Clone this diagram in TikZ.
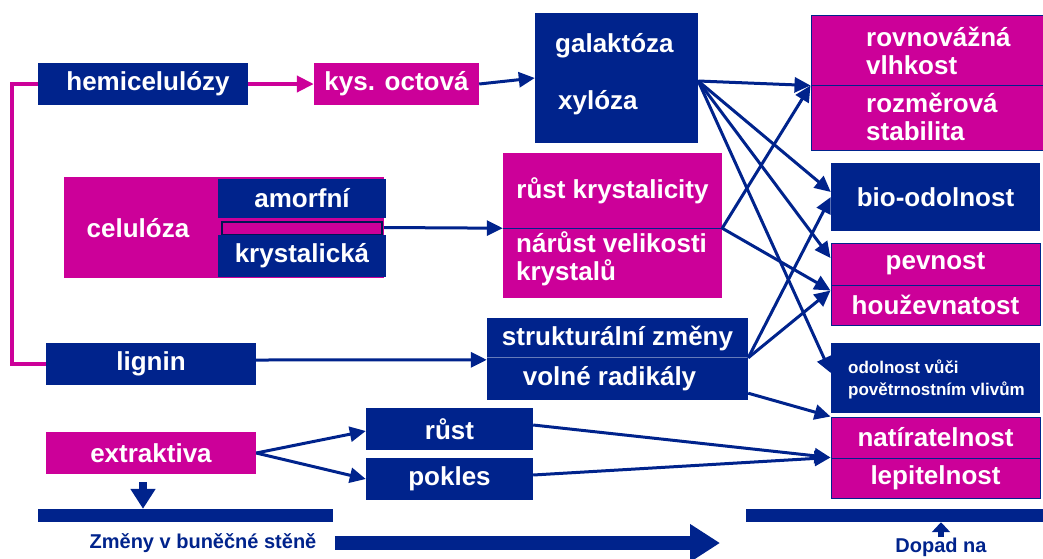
\documentclass[tikz,border=0pt]{standalone}
\usepackage{fontspec}
\setmainfont{Liberation Sans}
\usepackage{tikz}
\usetikzlibrary{arrows.meta,calc,positioning}
\definecolor{navy}{RGB}{0,35,140}
\definecolor{magent}{RGB}{204,0,153}
\tikzset{
  wh/.style 2 args={minimum width=#1pt, minimum height=#2pt},
  bluebox/.style={fill=navy, text=white, inner sep=0pt},
  magbox/.style={fill=magent, text=white, inner sep=0pt},
  magcell/.style={magbox, draw=navy, line width=1pt},   % right column cells
  wtxt/.style={anchor=west, align=left, text=white, inner sep=0pt},
  bar/.style={fill=navy, inner sep=0pt},
  link/.style={draw=navy, line width=3pt, -{Triangle[length=16pt,width=15pt]}},
  magline/.style={draw=magent, line width=4pt},
  smalltxt/.style={font=\bfseries\fontsize{17}{22}\selectfont},
  foot/.style={text=navy, font=\bfseries\fontsize{20}{22}\selectfont}
}

\begin{document}
\begin{tikzpicture}[x=1pt,y=-1pt,font=\bfseries\fontsize{26}{28}\selectfont]
  \useasboundingbox (0,0) rectangle (1043,558);
  % hemicelluloses
  \node[bluebox, wh={210}{42}] (hem) at (143,84) {\hspace*{10pt}hemicelulózy};
  \node[magbox, wh={165}{42}] (oct) at (396.5,84) {kys. octová};
  \node[bluebox, wh={163}{130}] (gal) at (616.5,78) {};
  \node[wtxt] (galtxt) at (555,46) {galaktóza};
  \node[wtxt] (xyltxt) at (558,103) {xylóza};
  % cellulose
  \node[magbox, wh={320}{101}] (cel) at (224,227.5) {};
  \node[text=white] (celtxt) at (138,228) {celulóza};
  \node[bluebox, wh={168}{39}] (amo) at (302,198.5) {amorfní};
  \node[magbox, draw=navy!60!black, line width=1.2pt, wh={160}{13}] (strip) at (302,228.5) {};
  \node[bluebox, wh={168}{42}] (kry) at (302,256) {krystalická};
  \node[magbox, wh={219}{75}] (rk) at (612.5,190.5) {růst krystalicity};
  \node[magbox, wh={219}{70}] (nv) at (612.5,263) {};
  \node[wtxt] (nvtxt) at (516,259) {nárůst velikosti\\krystalů};
  \draw[navy, line width=1pt] (rk.south west) -- (rk.south east);
  % lignin
  \node[bluebox, wh={210}{42}] (lig) at (151,364) {lignin};
  \node[bluebox, wh={261}{40}] (str) at (617.5,338) {strukturální změny};
  \node[bluebox, wh={261}{42}] (vol) at (617.5,379) {volné radikály\hspace*{16pt}};
  \draw[navy!60!white, line width=1pt] (vol.north west) -- (vol.north east);
  % extractives
  \node[magbox, wh={210}{42}] (ext) at (151,453) {extraktiva};
  \node[bluebox, wh={167}{42}] (rus) at (449.5,429) {růst};
  \node[bluebox, wh={167}{42}] (pok) at (449.5,479) {pokles};
  % properties
  \node[magcell, wh={240}{70}] (rv) at (931,50) {};
  \node[wtxt] (rvtxt) at (866,51) {rovnovážná\\vlhkost};
  \node[magcell, wh={240}{65}] (rs) at (931,117.5) {};
  \node[wtxt] (rstxt) at (866,117) {rozměrová\\stabilita};
  \node[bluebox, wh={209}{68}] (bio) at (935.5,197) {bio-odolnost};
  \node[magcell, wh={209}{42}] (pev) at (935.5,264) {pevnost};
  \node[magcell, wh={209}{40}] (hou) at (935.5,305) {houževnatost};
  \node[bluebox, wh={209}{70}] (odo) at (935.5,378) {};
  \node[wtxt, smalltxt] (odotxt) at (848,379) {odolnost vůči\\povětrnostním vlivům};
  \node[magcell, wh={209}{41}] (nat) at (935.5,437.5) {natíratelnost};
  \node[magcell, wh={209}{40}] (lep) at (935.5,478) {lepitelnost};
  % bottom bars and labels
  \node[bar, wh={295}{13}] (bar1) at (185.5,515.5) {};
  \node[bar, wh={300}{13}] (bar2) at (896,515.5) {};
  \node[foot] (zmeny) at (203,543) {Změny v buněčné stěně};
  \node[foot, anchor=base, inner sep=0pt] (dopad) at (941,552) {Dopad na};
  \coordinate (bigend) at (720,543);

  % connectors
  \draw[magline, -{Triangle[length=17pt,width=16pt]}] (hem) -- (oct);
  \draw[magline] (hem.west) -- ++(-26,0) |- (lig.west);
  \draw[link] (oct.east) -- (gal.west);
  \coordinate (galout) at ($(gal.east)+(0,3)$);
  \draw[link] (galout) -- (rv.south west);
  \draw[link] (galout) -- ($(bio.west)+(0,-5)$);
  \draw[link] (galout) -- ($(pev.west)+(0,-6)$);
  \draw[link] (galout) -- ($(odo.west)+(0,-5)$);
  \draw[link] (cel.east) -- (rk.south west);
  \draw[link] (rk.south east) -- (rv.south west);
  \draw[link] (rk.south east) -- ($(hou.north west)+(0,6)$);
  \draw[link] ($(lig.east)+(0,-4)$) -- ($(vol.north west)+(0,2)$);
  \draw[link] (vol.north east) -- (bio.west);
  \draw[link] (vol.north east) -- ($(hou.north west)+(0,6)$);
  \draw[link] ($(vol.south east)+(0,-7)$) -- (nat.north west);
  \draw[link] (ext.east) -- ($(rus.west)+(0,2)$);
  \draw[link] (ext.east) -- (pok.west);
  \draw[link] ($(rus.east)+(0,-4)$) -- (lep.north west);
  \draw[link] ($(pok.east)+(0,-4)$) -- (lep.north west);
  % block arrows
  \draw[navy, line width=8pt, -{Triangle[length=20pt,width=24pt]}] ($(ext.south)+(-8,8)$) -- ($(ext.south |- bar1.north)+(-8,0)$);
  \draw[navy, line width=14pt, -{Triangle[length=30pt,width=36pt]}] ($(zmeny.east)+(15,0)$) -- (bigend);
  \draw[navy, line width=6pt, -{Triangle[length=10pt,width=18pt]}] (dopad.north) -- (dopad.north |- bar2.south);
\end{tikzpicture}
\end{document}
